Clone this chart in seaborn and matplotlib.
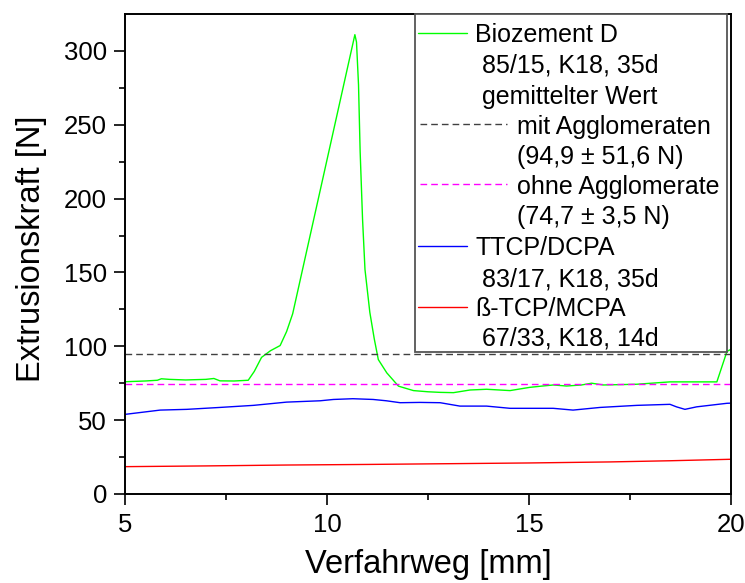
import matplotlib
matplotlib.use("Agg")
import matplotlib.pyplot as plt
from matplotlib.lines import Line2D
from matplotlib.patches import Rectangle
import pandas as pd
import seaborn as sns

# Extrusion force curves: travel [mm] vs. force [N]
biozement_x = [5.0, 5.5, 5.8, 5.9, 6.1, 6.5, 7.0, 7.2, 7.35, 7.7, 8.05, 8.2, 8.38,
               8.6, 8.84, 9.0, 9.15, 9.9, 10.69, 10.73, 10.78, 10.82, 10.88, 10.94,
               11.06, 11.17, 11.27, 11.48, 11.77, 12.14, 12.5, 12.8, 13.13, 13.54,
               13.95, 14.53, 15.02, 15.3, 15.6, 15.93, 16.3, 16.55, 16.84, 17.67,
               18.49, 19.65, 19.9, 20.0]
biozement_y = [76.0, 76.5, 77.0, 78.0, 77.6, 77.2, 77.6, 78.2, 76.6, 76.5, 77.0, 83.0, 92.5,
               97.0, 100.5, 110.0, 122.0, 214.0, 311.0, 306.0, 277.0, 232.0, 186.0, 152.0,
               123.0, 105.0, 91.0, 82.0, 73.0, 70.0, 69.2, 68.8, 68.6, 70.4,
               70.9, 70.0, 72.2, 73.0, 73.8, 73.1, 73.8, 75.0, 73.8, 74.3,
               75.9, 75.9, 96.5, 98.0]

ttcp_x = [5.0, 5.87, 6.53, 7.35, 8.18, 9.0, 9.83, 10.16, 10.64, 11.14, 11.47, 11.81,
          12.3, 12.8, 13.29, 13.95, 14.53, 15.6, 16.09, 16.76, 17.67, 18.49, 18.65,
          18.86, 19.15, 19.9, 20.0]
ttcp_y = [53.9, 56.8, 57.3, 58.6, 60.0, 62.2, 63.1, 64.0, 64.5, 64.0, 63.1, 61.8,
          62.0, 61.8, 59.5, 59.5, 58.0, 58.0, 56.8, 58.6, 60.0, 60.7, 59.0,
          57.3, 59.0, 61.4, 61.5]

btcp_x = [5.0, 7.0, 9.0, 11.0, 13.0, 15.0, 17.0, 18.5, 20.0]
btcp_y = [18.5, 19.0, 19.6, 20.0, 20.5, 21.0, 21.7, 22.5, 23.5]

mean_with_agglomerates = 94.9
mean_without_agglomerates = 74.7

series_names = ["Biozement D", "TTCP/DCPA", "ß-TCP/MCPA"]
series_colors = ["#00ff00", "#0000ff", "#ff0000"]

x_ticks = [5, 10, 15, 20]
y_ticks = [0, 50, 100, 150, 200, 250, 300]

frames = []
for name, xs, ys in zip(series_names, [biozement_x, ttcp_x, btcp_x],
                        [biozement_y, ttcp_y, btcp_y]):
    frames.append(pd.DataFrame({"Verfahrweg": xs, "Kraft": ys, "Probe": name}))
df = pd.concat(frames, ignore_index=True)

sns.set_theme(style="ticks")
plt.rcParams["font.family"] = ["Liberation Sans", "DejaVu Sans"]
plt.rcParams["text.color"] = "black"
plt.rcParams["axes.labelcolor"] = "black"
plt.rcParams["xtick.color"] = "black"
plt.rcParams["ytick.color"] = "black"

fig = plt.figure(figsize=(7.45, 5.83), dpi=100)
ax = fig.add_axes([0.1678, 0.1527, 0.8134, 0.8233])

sns.lineplot(data=df, x="Verfahrweg", y="Kraft", hue="Probe",
             hue_order=series_names, palette=series_colors,
             estimator=None, sort=False, legend=False, linewidth=1.0, ax=ax)

dash = (0, (4.8, 2.9))
ax.axhline(mean_with_agglomerates, color="#404040", lw=1.0, ls=dash)
ax.axhline(mean_without_agglomerates, color="#ff00ff", lw=1.0, ls=dash)

ax.set_xlim(5, 20)
ax.set_ylim(0, 325)
ax.set_xticks(x_ticks)
ax.set_yticks(y_ticks)
ax.set_xticks([7.5, 12.5, 17.5], minor=True)
ax.set_yticks([25, 75, 125, 175, 225, 275], minor=True)
ax.tick_params(which="major", direction="out", length=8, width=1.2,
               colors="black", labelsize=18.5)
ax.tick_params(axis="x", which="major", pad=6)
ax.tick_params(axis="y", which="major", pad=5)
ax.tick_params(which="minor", direction="out", length=4.5, width=1.2, colors="black")
ax.tick_params(top=False, right=False, which="both")

for side in ["left", "right", "top", "bottom"]:
    ax.spines[side].set_visible(True)
    ax.spines[side].set_color("black")
    ax.spines[side].set_linewidth(1.4)

ax.set_xlabel("Verfahrweg [mm]", fontsize=23.5)
ax.set_ylabel("Extrusionskraft [N]", fontsize=23.5)
ax.xaxis.set_label_coords(0.5, -0.1646)
ax.xaxis.label.set_va("baseline")
ax.yaxis.set_label_coords(-0.128, 0.51)

# Legend box drawn in axes coordinates
tr = ax.transAxes
ax.add_patch(Rectangle((0.4785, 0.2958), 0.5149, 0.7042, transform=tr,
                       facecolor="white", edgecolor="#555555", lw=1.3,
                       zorder=5, clip_on=False))

legend_fs = 18
handle_rows = [
    (0.9604, "#00ff00", "-", 0.4835, 0.5644),
    (0.7708, "#404040", dash, 0.4868, 0.6304),
    (0.6458, "#ff00ff", dash, 0.4868, 0.6304),
    (0.5167, "#0000ff", "-", 0.4835, 0.5644),
    (0.3896, "#ff0000", "-", 0.4835, 0.5644),
]
for y, c, ls, x0, x1 in handle_rows:
    ax.add_line(Line2D([x0, x1], [y, y], color=c, lw=1.0, ls=ls,
                       transform=tr, zorder=6, clip_on=False))

text_rows = [
    (0.5776, 0.9604, "Biozement D"),
    (0.5891, 0.8979, "85/15, K18, 35d"),
    (0.5891, 0.8333, "gemittelter Wert"),
    (0.6469, 0.7708, "mit Agglomeraten"),
    (0.6469, 0.7063, "(94,9 ± 51,6 N)"),
    (0.6469, 0.6458, "ohne Agglomerate"),
    (0.6469, 0.5813, "(74,7 ± 3,5 N)"),
    (0.5776, 0.5167, "TTCP/DCPA"),
    (0.5891, 0.4521, "83/17, K18, 35d"),
    (0.5776, 0.3896, "ß-TCP/MCPA"),
    (0.5891, 0.3290, "67/33, K18, 14d"),
]
for x, y, s in text_rows:
    ax.text(x, y, s, transform=tr, fontsize=legend_fs, ha="left",
            va="center_baseline", color="black", zorder=7)

fig.savefig("out.png", dpi=100, facecolor="white")
